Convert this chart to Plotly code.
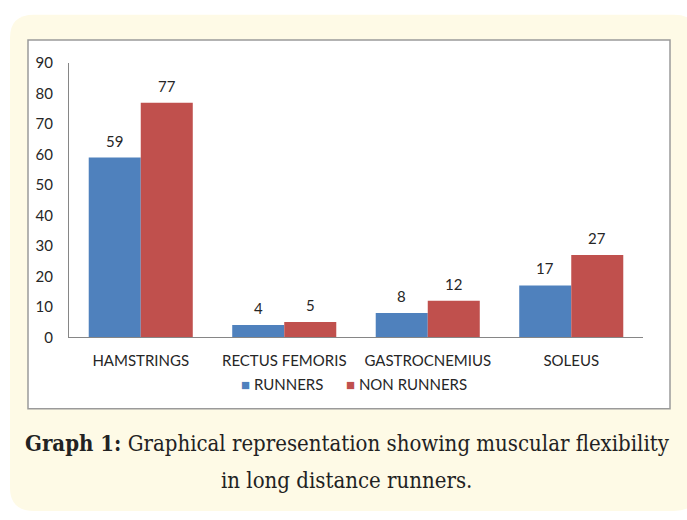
import plotly.graph_objects as go

categories = ["HAMSTRINGS", "RECTUS FEMORIS", "GASTROCNEMIUS", "SOLEUS"]
runners = [59, 4, 8, 17]
non_runners = [77, 5, 12, 27]
series_names = ["RUNNERS", "NON RUNNERS"]
y_ticks = [0, 10, 20, 30, 40, 50, 60, 70, 80, 90]
caption_bold = "Graph 1:"
caption_line1 = "Graphical representation showing muscular flexibility"
caption_line2 = "in long distance runners."

W, H = 687, 520
BLUE = "#4f81bd"
RED = "#c0504d"
TXT = "#262626"
FONT = "Lato"
CAP_FONT = "DejaVu Serif Condensed"
BARGAP = 0.275
series_colors = [BLUE, RED]


def px(x):
    return x / W


def py(y):
    return 1 - y / H


def rounded_path(x0, y0, x1, y1, r):
    pts = []
    pts.append(f"M {px(x0 + r)},{py(y0)}")
    pts.append(f"L {px(x1 - r)},{py(y0)}")
    pts.append(f"Q {px(x1)},{py(y0)} {px(x1)},{py(y0 + r)}")
    pts.append(f"L {px(x1)},{py(y1 - r)}")
    pts.append(f"Q {px(x1)},{py(y1)} {px(x1 - r)},{py(y1)}")
    pts.append(f"L {px(x0 + r)},{py(y1)}")
    pts.append(f"Q {px(x0)},{py(y1)} {px(x0)},{py(y1 - r)}")
    pts.append(f"L {px(x0)},{py(y0 + r)}")
    pts.append(f"Q {px(x0)},{py(y0)} {px(x0 + r)},{py(y0)}")
    pts.append("Z")
    return " ".join(pts)


fig = go.Figure()
for name, vals, col in zip(series_names, [runners, non_runners], series_colors):
    fig.add_trace(go.Bar(x=categories, y=vals, name=name,
                         marker=dict(color=col, line=dict(width=0))))

annotations = []
off = (1 - BARGAP) / 4
for i, (a, b) in enumerate(zip(runners, non_runners)):
    for val, dx in ((a, -off), (b, off)):
        annotations.append(dict(x=i + dx, y=val, xref="x", yref="y", text=str(val),
                                showarrow=False, yanchor="middle", yshift=17,
                                font=dict(family=FONT, size=15, color=TXT)))

# legend (below the axis, like the reference)
legend_x = [239, 344]
for name, col, lx in zip(series_names, series_colors, legend_x):
    annotations.append(dict(x=px(lx), y=py(387), xref="paper", yref="paper",
                            text=f"<span style='color:{col}'>■</span> {name}",
                            showarrow=False, xanchor="left", yanchor="middle",
                            font=dict(family=FONT, size=15, color=TXT)))

annotations.append(dict(x=px(347), y=py(449), xref="paper", yref="paper",
                        text=f"<b>{caption_bold}</b> {caption_line1}", showarrow=False,
                        xanchor="center", yanchor="middle",
                        font=dict(family=CAP_FONT, size=22, color="#222222")))
annotations.append(dict(x=px(346), y=py(487), xref="paper", yref="paper",
                        text=caption_line2, showarrow=False,
                        xanchor="center", yanchor="middle",
                        font=dict(family=CAP_FONT, size=22, color="#222222")))

shapes = [
    dict(type="path", xref="paper", yref="paper", path=rounded_path(10, 5, 698, 519, 24),
         fillcolor="#fefae6", line=dict(width=0), layer="below"),
    dict(type="rect", xref="paper", yref="paper", x0=px(28), x1=px(670), y0=py(413), y1=py(31),
         fillcolor="white", line=dict(color="#9a9a9a", width=1.5), layer="below"),
]

fig.update_layout(
    width=W, height=H,
    margin=dict(l=0, r=0, t=0, b=0),
    paper_bgcolor="white",
    plot_bgcolor="rgba(0,0,0,0)",
    barmode="group",
    bargap=BARGAP,
    bargroupgap=0,
    font=dict(family=FONT, size=15, color=TXT),
    showlegend=False,
    xaxis=dict(domain=[px(69), px(643)], type="category", showline=True,
               linecolor="#868686", linewidth=1, ticks="", showgrid=False,
               tickfont=dict(family=FONT, size=15, color=TXT), ticklabelstandoff=10),
    yaxis=dict(domain=[py(339), py(55)], range=[0, 90], tickvals=y_ticks, showline=True,
               linecolor="#868686", linewidth=1, ticks="", showgrid=False, zeroline=False,
               tickfont=dict(family=FONT, size=15, color=TXT), ticklabelstandoff=12),
    shapes=shapes,
    annotations=annotations,
)

fig.write_html("out.html", config=dict(displayModeBar=False),
               post_script="document.body.style.margin='0';document.body.style.overflow='hidden';")
